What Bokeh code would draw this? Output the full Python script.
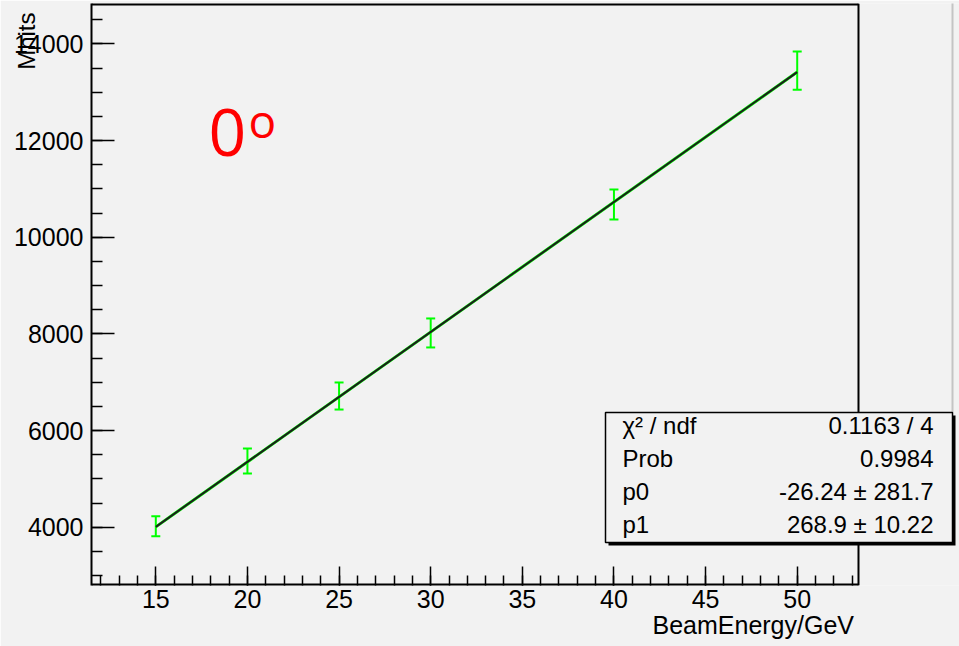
import math
from bokeh.plotting import figure
from bokeh.models import FixedTicker, Label, BoxAnnotation, Range1d, Title
from bokeh.embed import file_html
from bokeh.resources import INLINE

# ---------------- data ----------------
beam_energy = [15, 20, 25, 30, 40, 50]
mhits = [4020, 5370, 6715, 8020, 10680, 13450]
mhits_err = [205, 260, 280, 300, 310, 395]
fit_p0 = -26.24
fit_p1 = 268.9
stats_names = ["χ² / ndf", "Prob", "p0", "p1"]
stats_values = ["0.1163 / 4", "0.9984", "-26.24 ± 281.7", "268.9 ± 10.22"]
x_major = [15, 20, 25, 30, 35, 40, 45, 50]
x_minor = list(range(12, 54))
y_major = [4000, 6000, 8000, 10000, 12000, 14000]
y_minor = list(range(3000, 14501, 500))
x_title = "BeamEnergy/GeV"
y_title = "Mhits"
angle_main = "0"
angle_sup = "o"

# ---------------- layout ----------------
W, H = 959, 646
ML, MR, MT, MB = 91, 0, 3, 61
FL, FR, FT, FB = ML, W - MR, MT, H - MB          # frame edges in page px
X0, X1 = 11.491, 58.856
Y0, Y1 = 2793.5, 14838.0
FRAME_X_END = 53.344                               # ROOT frame right edge (x value)


def dx(px):
    return X0 + (px - FL) / (FR - FL) * (X1 - X0)


def dy(py):
    return Y1 - (py - FT) / (FB - FT) * (Y1 - Y0)


BG = "#f2f2f2"
GREEN = "#00ff00"
FONT = "Liberation Sans"
SHIFT = 0.4  # label baseline compensation (em)

p = figure(width=W, height=H, x_range=Range1d(X0, X1), y_range=Range1d(Y0, Y1),
           output_backend="svg", toolbar_location=None,
           min_border_left=ML, min_border_right=MR, min_border_top=MT, min_border_bottom=MB)
p.background_fill_color = BG
p.border_fill_color = BG
p.outline_line_color = None
p.grid.visible = False

for ax in (p.xaxis[0], p.yaxis[0]):
    ax.axis_line_color = "black"
    ax.axis_line_width = 2
    ax.major_tick_line_color = "black"
    ax.minor_tick_line_color = "black"
    ax.major_tick_line_width = 1.5
    ax.minor_tick_line_width = 1.5
    ax.major_tick_out = 0
    ax.minor_tick_out = 0
    ax.major_label_text_font = FONT
    ax.major_label_text_font_size = "25px"
    ax.major_label_text_color = "black"

p.xaxis.ticker = FixedTicker(ticks=x_major, minor_ticks=x_minor)
p.xaxis.major_label_overrides = {v: str(v) for v in x_major}
p.xaxis.major_tick_in = 19
p.xaxis.minor_tick_in = 10
p.xaxis.major_label_standoff = 4
p.xaxis.axis_line_color = None

p.yaxis.ticker = FixedTicker(ticks=y_major, minor_ticks=y_minor)
p.yaxis.major_label_overrides = {v: str(v) for v in y_major}
p.yaxis.major_tick_in = 23
p.yaxis.minor_tick_in = 11
p.yaxis.major_label_standoff = 8

# ROOT-style frame (bottom, top, right)
p.segment(x0=[X0, X0, FRAME_X_END], y0=[Y0, Y1, Y0], x1=[FRAME_X_END, FRAME_X_END, FRAME_X_END],
          y1=[Y0, Y1, Y1], line_color="black", line_width=[4, 4, 2])
# canvas edge
p.segment(x0=[dx(952)], y0=[dy(0)], x1=[dx(952)], y1=[dy(412)], line_color="#c4c4c4", line_width=2)

# error bars
lo = [m - e for m, e in zip(mhits, mhits_err)]
hi = [m + e for m, e in zip(mhits, mhits_err)]
p.segment(x0=beam_energy, y0=lo, x1=beam_energy, y1=hi, line_color=GREEN, line_width=2)
p.scatter(x=beam_energy + beam_energy, y=lo + hi, marker="dash", size=9,
          line_color=GREEN, line_width=2)

# fit line
fx = [beam_energy[0], beam_energy[-1]]
fy = [fit_p0 + fit_p1 * x for x in fx]
p.line(fx, fy, line_color=GREEN, line_width=3)
p.line(fx, fy, line_color="#1c1c1c", line_width=2)

# axis titles
p.add_layout(Title(text=x_title, align="left", vertical_align="bottom", standoff=-4, offset=561,
                   text_font=FONT, text_font_size="25px", text_font_style="normal",
                   text_color="black"), "below")
p.add_layout(Title(text=y_title, align="right", vertical_align="bottom", standoff=-58, offset=9,
                   text_font=FONT, text_font_size="24px", text_font_style="normal",
                   text_color="black"), "left")


def lab(px, base, text, size, font=FONT, color="black", align="left"):
    p.add_layout(Label(x=dx(px), y=dy(base - SHIFT * size), text=text, text_align=align,
                       text_baseline="alphabetic", text_font=font,
                       text_font_size=f"{size}px", text_color=color))


# angle label
lab(208, 158, angle_main, 66, font="Open Sans", color="red")
lab(248, 138, angle_sup, 46, font="Open Sans", color="red")

# stats box
p.add_layout(BoxAnnotation(left=dx(608), right=dx(955), top=dy(415), bottom=dy(545),
                           fill_color="black", fill_alpha=1, line_alpha=0))
p.add_layout(BoxAnnotation(left=dx(605), right=dx(952), top=dy(412), bottom=dy(542),
                           fill_color=BG, fill_alpha=1, line_color="black", line_width=1.5,
                           line_alpha=1))
row_base = [435, 468, 501, 534]
for name, val, yb in zip(stats_names, stats_values, row_base):
    lab(622, yb, name, 24)
    lab(933, yb, val, 24, align="right")

open("out.html", "w").write(file_html(p, INLINE))
